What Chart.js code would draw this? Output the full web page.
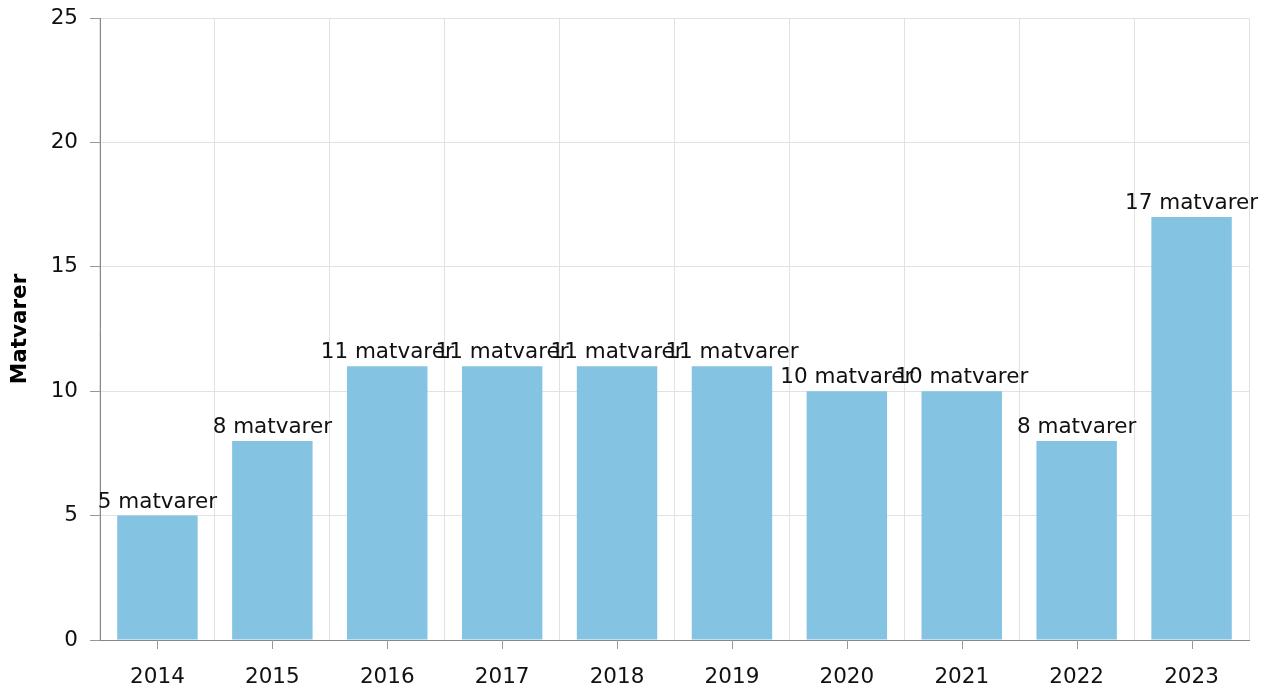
<!DOCTYPE html>
<html>
<head>
<meta charset="utf-8">
<script src="https://cdn.jsdelivr.net/npm/chart.js@4/dist/chart.umd.min.js"></script>
<style>
  html, body { margin: 0; padding: 0; background: #fff; }
  #wrap { width: 1271px; height: 689px; }
</style>
</head>
<body>
<div id="wrap"><canvas id="matvareChart"></canvas></div>
<script>
var years = ['2014', '2015', '2016', '2017', '2018', '2019', '2020', '2021', '2022', '2023'];
var counts = [5, 8, 11, 11, 11, 11, 10, 10, 8, 17];
var yTicks = [0, 5, 10, 15, 20, 25];

var fontFamily = '"DejaVu Sans", Verdana, sans-serif';

// labels over each bar
var barLabels = {
    id: 'barLabels',
    afterDatasetsDraw: function (chart) {
        var ctx = chart.ctx;
        var meta = chart.getDatasetMeta(0);
        ctx.save();
        ctx.font = '21.5px ' + fontFamily;
        ctx.fillStyle = '#111';
        ctx.textAlign = 'center';
        ctx.textBaseline = 'alphabetic';
        meta.data.forEach(function (bar, i) {
            ctx.fillText(counts[i] + ' matvarer', bar.x, bar.y - 8);
        });
        ctx.restore();
    }
};

// tick marks at the middle of each category (grid lines sit on the borders)
var centerTicks = {
    id: 'centerTicks',
    afterDraw: function (chart) {
        var ctx = chart.ctx;
        var x = chart.scales.x;
        ctx.save();
        ctx.strokeStyle = '#999';
        ctx.lineWidth = 1;
        years.forEach(function (y, i) {
            var px = Math.round(x.getPixelForValue(i)) + 0.5;
            ctx.beginPath();
            ctx.moveTo(px, x.top);
            ctx.lineTo(px, x.top + 9);
            ctx.stroke();
        });
        ctx.restore();
    }
};

var ctx = document.getElementById('matvareChart').getContext('2d');
var myChart = new Chart(ctx, {
    type: 'bar',
    data: {
        labels: years,
        datasets: [{
            label: 'Matvarer',
            data: counts,
            backgroundColor: '#84c3e1',
            borderWidth: 0,
            inflateAmount: 0,
            categoryPercentage: 1,
            barPercentage: 0.7
        }]
    },
    options: {
        responsive: true,
        maintainAspectRatio: false,
        animation: false,
        layout: { padding: { top: 18, right: 22, left: 0, bottom: 0 } },
        plugins: {
            legend: { display: false },
            tooltip: { enabled: false }
        },
        scales: {
            x: {
                offset: true,
                grid: { offset: true, color: '#e2e2e2', drawTicks: false },
                border: { color: '#888', width: 1 },
                ticks: { color: '#111', font: { family: fontFamily, size: 21.5 }, padding: 25, maxRotation: 0 },
                afterFit: function (scale) { scale.height = 49; }
            },
            y: {
                min: 0,
                max: 25,
                afterBuildTicks: function (scale) {
                    scale.ticks = yTicks.map(function (v) { return { value: v }; });
                },
                grid: { color: '#e2e2e2', tickColor: '#999', tickLength: 10 },
                border: { color: '#888', width: 1 },
                ticks: { color: '#111', font: { family: fontFamily, size: 21.5 }, padding: 12 },
                title: {
                    display: true,
                    text: 'Matvarer',
                    color: '#000',
                    font: { family: fontFamily, size: 21.5, weight: 'bold' },
                    padding: { top: 8, bottom: 0 }
                },
                afterFit: function (scale) {
                    scale.width = 100;
                    scale.paddingTop = 0;
                    scale.paddingBottom = 0;
                }
            }
        }
    },
    plugins: [barLabels, centerTicks]
});
</script>
</body>
</html>
